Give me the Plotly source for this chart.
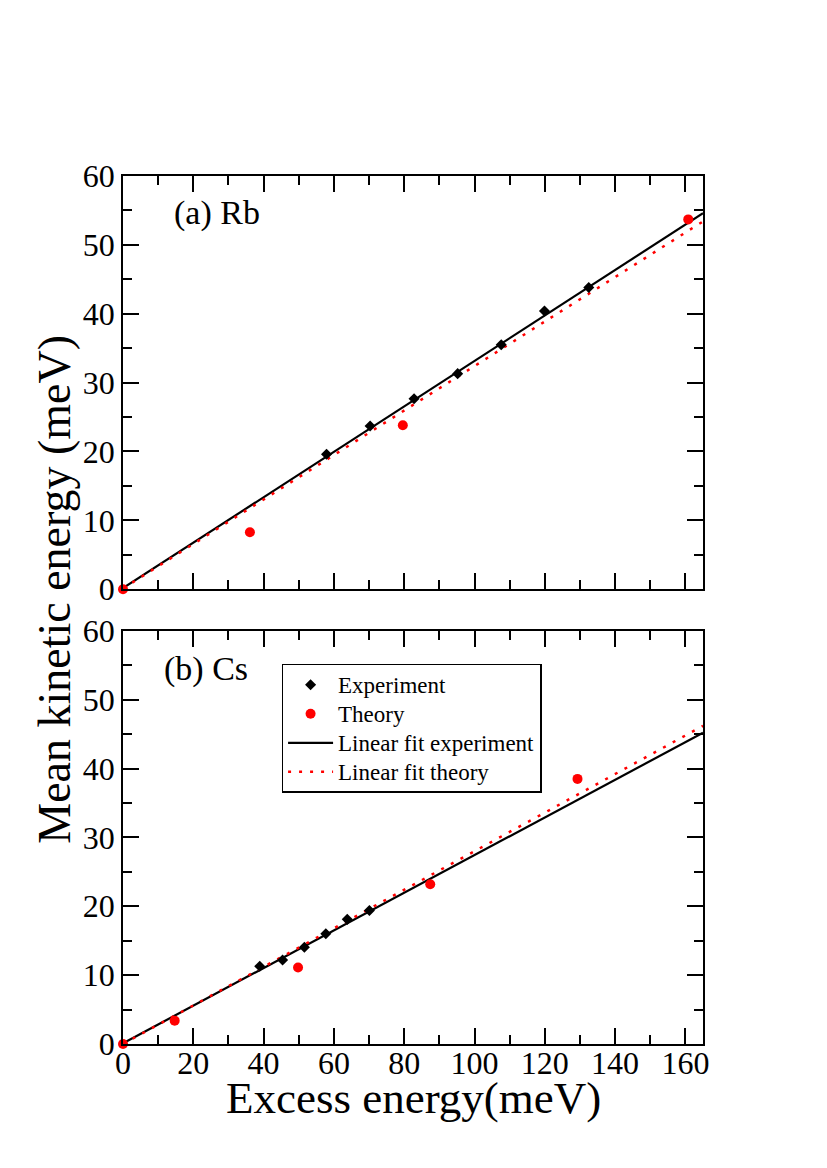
import plotly.graph_objects as go
from plotly.subplots import make_subplots

# (a) Rb
rb_exp_x = [57.9, 70.3, 82.8, 95.2, 107.6, 119.9, 132.5]
rb_exp_y = [19.6, 23.7, 27.65, 31.3, 35.5, 40.4, 43.8]
rb_th_x = [0.0, 36.1, 79.6, 160.8]
rb_th_y = [0.0, 8.27, 23.8, 53.7]
rb_fit_exp_x = [0, 165]
rb_fit_exp_y = [0.15, 54.6]
rb_fit_th_x = [0, 165]
rb_fit_th_y = [0.1, 53.4]

# (b) Cs
cs_exp_x = [38.9, 45.4, 51.6, 57.7, 63.8, 70.1]
cs_exp_y = [11.3, 12.2, 14.05, 16.0, 18.1, 19.4]
cs_th_x = [0.0, 14.7, 49.8, 87.4, 129.3]
cs_th_y = [0.0, 3.39, 11.1, 23.2, 38.5]
cs_fit_exp_x = [0, 165]
cs_fit_exp_y = [0.1, 45.2]
cs_fit_th_x = [0, 165]
cs_fit_th_y = [0.0, 46.2]

FONT = "Liberation Serif"
DOT = "3px,8px"


def leg(name):
    # bigger text than the legend's row height font
    return '<span style="font-size:23px">%s</span>' % name


fig = make_subplots(rows=2, cols=1, vertical_spacing=0.048)

panels = [
    (1, rb_exp_x, rb_exp_y, rb_th_x, rb_th_y, rb_fit_exp_x, rb_fit_exp_y, rb_fit_th_x, rb_fit_th_y, False),
    (2, cs_exp_x, cs_exp_y, cs_th_x, cs_th_y, cs_fit_exp_x, cs_fit_exp_y, cs_fit_th_x, cs_fit_th_y, True),
]

for row, ex, ey, tx, ty, fex, fey, ftx, fty, show in panels:
    fig.add_trace(go.Scatter(x=fex, y=fey, mode="lines", name=leg("Linear fit experiment"),
                             line=dict(color="black", width=2.2), showlegend=show,
                             legendrank=3), row=row, col=1)
    fig.add_trace(go.Scatter(x=ftx, y=fty, mode="lines", name=leg("Linear fit theory"),
                             line=dict(color="red", width=2.5, dash=DOT), showlegend=show,
                             legendrank=4), row=row, col=1)
    fig.add_trace(go.Scatter(x=ex, y=ey, mode="markers", name=leg("Experiment"),
                             marker=dict(symbol="diamond", color="black", size=8.5),
                             showlegend=show, legendrank=1), row=row, col=1)
    fig.add_trace(go.Scatter(x=tx, y=ty, mode="markers", name=leg("Theory"),
                             marker=dict(symbol="circle", color="red", size=10),
                             showlegend=show, legendrank=2, cliponaxis=False), row=row, col=1)

axis_common = dict(
    showline=True, linecolor="black", linewidth=1.5, mirror="allticks",
    ticks="inside", ticklen=16, tickwidth=1.5, tickcolor="black",
    showgrid=False, zeroline=False,
    tickfont=dict(family=FONT, size=32, color="black"),
)

for row in (1, 2):
    fig.update_xaxes(range=[0, 165], dtick=20, tick0=0,
                     minor=dict(dtick=10, ticks="inside", ticklen=9, tickwidth=1.5,
                                tickcolor="black", showgrid=False),
                     showticklabels=(row == 2), ticklabelstandoff=-10,
                     row=row, col=1, **axis_common)
    fig.update_yaxes(range=[0, 60], dtick=10, tick0=0,
                     minor=dict(dtick=5, ticks="inside", ticklen=9, tickwidth=1.5,
                                tickcolor="black", showgrid=False),
                     row=row, col=1, **axis_common)

# the page body adds 8px round the figure, so the figure is 8px smaller
fig.update_layout(
    width=819, height=1160,
    margin=dict(l=115, r=124, t=168, b=124),
    paper_bgcolor="white", plot_bgcolor="white",
    font=dict(family=FONT, color="black"),
    legend=dict(x=0.2734, y=0.438, xanchor="left", yanchor="top",
                bgcolor="white", bordercolor="black", borderwidth=1.5,
                font=dict(family=FONT, size=20, color="black"),
                itemwidth=45, traceorder="normal"),
    annotations=[
        dict(text="(a) Rb", x=14.0, y=54.6, xref="x", yref="y", xanchor="left",
             yanchor="middle", showarrow=False, font=dict(family=FONT, size=34)),
        dict(text="(b) Cs", x=11.2, y=54.5, xref="x2", yref="y2", xanchor="left",
             yanchor="middle", showarrow=False, font=dict(family=FONT, size=34)),
        dict(text="Excess energy(meV)", x=0.5, y=-0.031, xref="paper", yref="paper",
             xanchor="center", yanchor="top", showarrow=False,
             font=dict(family=FONT, size=45)),
        dict(text="Mean kinetic energy (meV)", x=-0.118, y=0.524, xref="paper", yref="paper",
             xanchor="center", yanchor="middle", textangle=-90, showarrow=False,
             font=dict(family=FONT, size=46)),
    ],
)

fig.write_html("out.html")
